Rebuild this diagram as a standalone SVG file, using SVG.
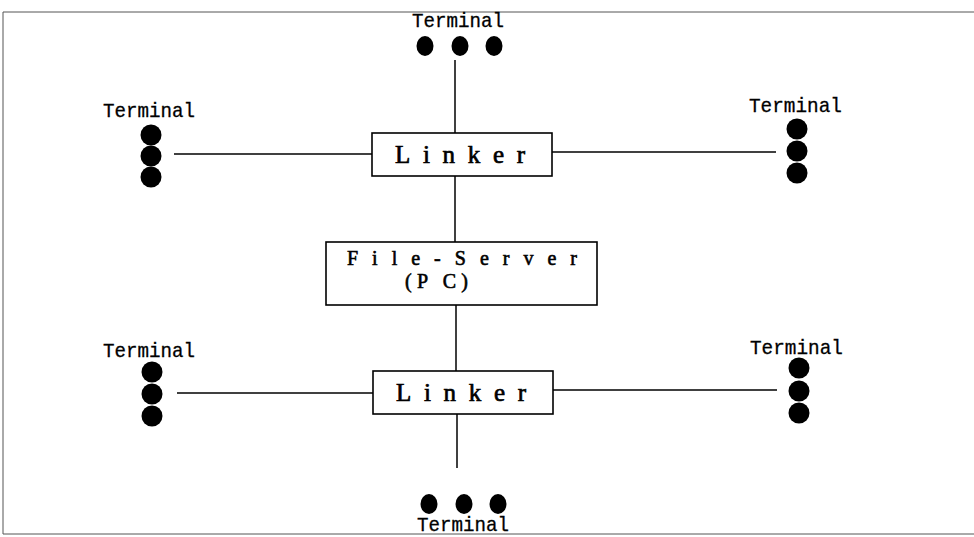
<svg xmlns="http://www.w3.org/2000/svg" width="974" height="537" viewBox="0 0 974 537">
<style>
.frame{fill:none;stroke:#555;stroke-width:1}
.ln{stroke:#000;stroke-width:1.5;fill:none}
.box{fill:#fff;stroke:#000;stroke-width:1.6}
.dot{fill:#000}
.term{font-family:"Liberation Mono",monospace;font-size:21px;fill:#000;stroke:#000;stroke-width:0.3}
.lab{font-family:"Liberation Serif",serif;font-size:25px;fill:#000;stroke:#000;stroke-width:0.7}
.sub{font-family:"Liberation Serif",serif;font-size:20px;fill:#000;stroke:#000;stroke-width:0.6}
</style>
<rect width="974" height="537" fill="#fff"/>
<path class="frame" d="M974,12 H3 V534 H974"/>
<g id="connectors">
<line class="ln" x1="455" y1="60" x2="455" y2="133"/>
<line class="ln" x1="174" y1="154" x2="372" y2="154"/>
<line class="ln" x1="552" y1="152" x2="776" y2="152"/>
<line class="ln" x1="455" y1="176" x2="455" y2="242"/>
<line class="ln" x1="456" y1="305" x2="456" y2="371"/>
<line class="ln" x1="177" y1="393" x2="373" y2="393"/>
<line class="ln" x1="553" y1="390" x2="777" y2="390"/>
<line class="ln" x1="457" y1="414" x2="457" y2="468"/>
</g>
<g id="linker-top">
<rect class="box" x="372" y="133" width="180" height="43"/>
<text class="lab" x="395" y="163" textLength="130" lengthAdjust="spacing">Linker</text>
</g>
<g id="file-server">
<rect class="box" x="326" y="242" width="271" height="63"/>
<text class="sub" x="347" y="265" textLength="230" lengthAdjust="spacing">File-Server</text>
<text class="sub" x="405" y="288" textLength="63" lengthAdjust="spacing">(P C)</text>
</g>
<g id="linker-bottom">
<rect class="box" x="373" y="371" width="180" height="43"/>
<text class="lab" x="396" y="401" textLength="130" lengthAdjust="spacing">Linker</text>
</g>
<g id="terminal-top">
<text class="term" x="412" y="27" textLength="92" lengthAdjust="spacingAndGlyphs">Terminal</text>
<ellipse class="dot" cx="425" cy="46" rx="8.5" ry="10"/>
<ellipse class="dot" cx="460" cy="46" rx="8.5" ry="10"/>
<ellipse class="dot" cx="494" cy="46" rx="8.5" ry="10"/>
</g>
<g id="terminal-left-top">
<text class="term" x="103" y="117" textLength="92" lengthAdjust="spacingAndGlyphs">Terminal</text>
<circle class="dot" cx="151" cy="135" r="10.5"/>
<circle class="dot" cx="151" cy="156" r="10.5"/>
<circle class="dot" cx="151" cy="177" r="10.5"/>
</g>
<g id="terminal-right-top">
<text class="term" x="749" y="112" textLength="93" lengthAdjust="spacingAndGlyphs">Terminal</text>
<circle class="dot" cx="797" cy="129" r="10.5"/>
<circle class="dot" cx="797" cy="151" r="10.5"/>
<circle class="dot" cx="797" cy="173" r="10.5"/>
</g>
<g id="terminal-left-bottom">
<text class="term" x="103" y="357" textLength="92" lengthAdjust="spacingAndGlyphs">Terminal</text>
<circle class="dot" cx="152" cy="372" r="10.5"/>
<circle class="dot" cx="152" cy="394" r="10.5"/>
<circle class="dot" cx="152" cy="416" r="10.5"/>
</g>
<g id="terminal-right-bottom">
<text class="term" x="750" y="354" textLength="93" lengthAdjust="spacingAndGlyphs">Terminal</text>
<circle class="dot" cx="799" cy="368" r="10.5"/>
<circle class="dot" cx="799" cy="391" r="10.5"/>
<circle class="dot" cx="799" cy="413" r="10.5"/>
</g>
<g id="terminal-bottom">
<ellipse class="dot" cx="429" cy="504" rx="8.5" ry="10"/>
<ellipse class="dot" cx="464" cy="504" rx="8.5" ry="10"/>
<ellipse class="dot" cx="498" cy="504" rx="8.5" ry="10"/>
<text class="term" x="417" y="531" textLength="92" lengthAdjust="spacingAndGlyphs">Terminal</text>
</g>
</svg>
